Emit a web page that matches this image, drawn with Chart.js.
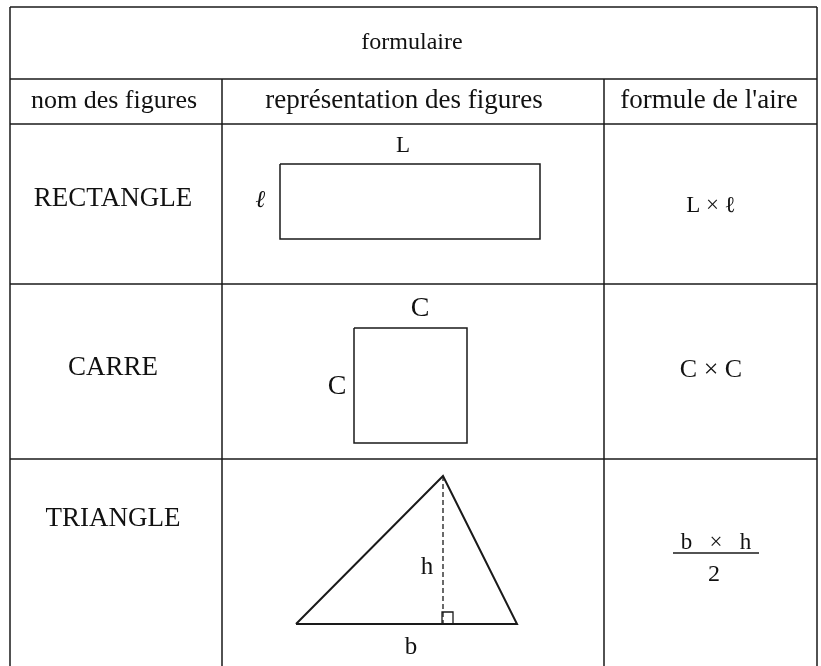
<!DOCTYPE html>
<html>
<head>
<meta charset="utf-8">
<script src="https://cdn.jsdelivr.net/npm/chart.js@4"></script>
<style>
	body { margin: 0; background: #fff; }
	canvas { display: block; }
</style>
</head>
<body>
<canvas id="mycanvas" width="821" height="666"></canvas>
<script>
// table content
var title = 'formulaire';
var columnTitles = ['nom des figures', 'représentation des figures', "formule de l'aire"];
var figureNames = ['RECTANGLE', 'CARRE', 'TRIANGLE'];
var formulas = ['L × ℓ', 'C × C'];
var fractionTop = 'b   ×   h';
var fractionBottom = '2';

// figure vertices, in chart units
var rectangleCorners = [[280, 164], [540, 164], [540, 239], [280, 239], [280, 164]];
var squareCorners = [[354, 328], [467, 328], [467, 443], [354, 443], [354, 328]];
var triangleCorners = [[296, 624], [443, 476], [517, 624], [296, 624]];
var heightLine = [[443, 476], [443, 624]];
var rightAngle = [[442, 624], [442, 612], [453, 612], [453, 624]];
var fractionBar = [[673, 553], [759, 553]];

// table grid
var tableLeft = 10, tableRight = 817, tableTop = 7, tableBottom = 666;
var columnEdges = [222, 604];
var rowEdges = [79, 124, 284, 459];

function pts(arr) {
	var out = [];
	for (var i in arr) {
		out.push({x: arr[i][0], y: arr[i][1]});
	}
	return out;
}

function seg(arr, width, dash) {
	return {
		data: pts(arr),
		showLine: true,
		borderColor: '#1a1a1a',
		borderWidth: width,
		borderDash: dash || [],
		pointRadius: 0,
		fill: false,
		tension: 0
	};
}

var datasets = [];
// grid lines
datasets.push(seg([[tableLeft, tableTop], [tableRight, tableTop]], 1.5));
for (var r in rowEdges) {
	datasets.push(seg([[tableLeft, rowEdges[r]], [tableRight, rowEdges[r]]], 1.5));
}
datasets.push(seg([[tableLeft, tableTop], [tableLeft, tableBottom]], 1.5));
datasets.push(seg([[tableRight, tableTop], [tableRight, tableBottom]], 1.5));
for (var c in columnEdges) {
	datasets.push(seg([[columnEdges[c], rowEdges[0]], [columnEdges[c], tableBottom]], 1.5));
}
// figures
datasets.push(seg(rectangleCorners, 1.5));
datasets.push(seg(squareCorners, 1.5));
datasets.push(seg(triangleCorners, 2));
datasets.push(seg(heightLine, 1.3, [5, 3]));
datasets.push(seg(rightAngle, 1.3));
datasets.push(seg(fractionBar, 1.3));

// texts: [text, x, y, size, style]
var serif = 'px "Liberation Serif", "DejaVu Serif", serif';
var labels = [
	[title, 412, 43, 24, ''],
	[columnTitles[0], 114, 101, 26, ''],
	[columnTitles[1], 404, 101, 27, ''],
	[columnTitles[2], 709, 101, 27, ''],
	[figureNames[0], 113, 199, 27, ''],
	[figureNames[1], 113, 368, 27, ''],
	[figureNames[2], 113, 519, 27, ''],
	['L', 403, 146, 23, ''],
	['ℓ', 261, 201, 24, 'italic bold '],
	['C', 420, 309, 28, ''],
	['C', 337, 387, 28, ''],
	['h', 427, 567, 25, ''],
	['b', 411, 647, 25, ''],
	[formulas[0], 711, 206, 23, ''],
	[formulas[1], 711, 370, 26, ''],
	[fractionTop, 716, 543, 23, ''],
	[fractionBottom, 714, 575, 24, '']
];

var textPlugin = {
	id: 'tableText',
	afterDatasetsDraw: function(chart) {
		var g = chart.ctx;
		var sx = chart.scales.x, sy = chart.scales.y;
		g.save();
		g.fillStyle = '#111';
		g.textAlign = 'center';
		g.textBaseline = 'middle';
		for (var i in labels) {
			var l = labels[i];
			g.font = l[4] + l[3] + serif;
			g.fillText(l[0], sx.getPixelForValue(l[1]), sy.getPixelForValue(l[2]));
		}
		g.restore();
	}
};

var ctx = document.getElementById('mycanvas');
var chart = new Chart(ctx, {
	type: 'scatter',
	data: { datasets: datasets },
	options: {
		responsive: false,
		animation: false,
		layout: { padding: 0 },
		plugins: {
			legend: { display: false },
			tooltip: { enabled: false }
		},
		scales: {
			x: { type: 'linear', min: 0, max: 821, display: false },
			y: { type: 'linear', min: 0, max: 666, reverse: true, display: false }
		}
	},
	plugins: [textPlugin]
});
</script>
</body>
</html>
